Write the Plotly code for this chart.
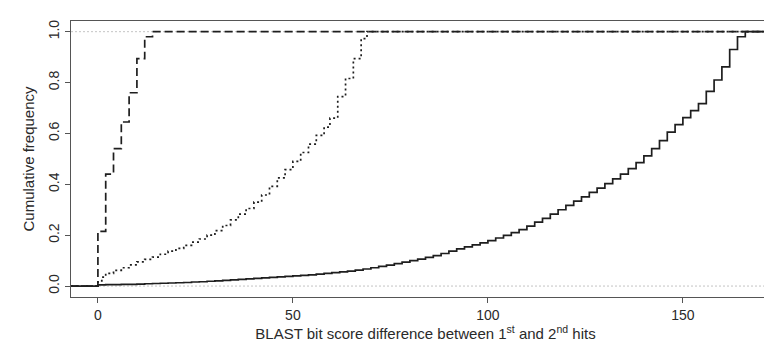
import plotly.graph_objects as go

# ---- data ----
# dashed series: jump positions and cumulative values
dash_x = [0, 2, 4, 6, 8, 10, 12, 14]
dash_y = [0.215, 0.44, 0.54, 0.645, 0.76, 0.894, 0.98, 1.0]

# dotted series
dot_x = [0, 1, 2, 4, 6, 8, 10, 12, 14, 16, 18, 20, 22, 24, 26, 28, 30, 32, 34, 36,
         38, 40, 42, 44, 46, 48, 50, 52, 54, 56, 58, 59.5, 61.5, 63.5, 65.5, 67.5, 69]
dot_y = [0.02, 0.035, 0.05, 0.062, 0.072, 0.083, 0.095, 0.105, 0.114, 0.125, 0.137,
         0.148, 0.160, 0.173, 0.185, 0.200, 0.218, 0.238, 0.260, 0.283, 0.305, 0.330,
         0.358, 0.392, 0.425, 0.458, 0.490, 0.525, 0.558, 0.592, 0.625, 0.660, 0.745,
         0.816, 0.894, 0.973, 1.0]

# solid series
solid_x = list(range(0, 168, 2))
solid_y = [0.005, 0.006, 0.006, 0.007, 0.007, 0.008, 0.009, 0.010, 0.011, 0.012,
           0.013, 0.014, 0.016, 0.017, 0.019, 0.020, 0.022, 0.024, 0.026, 0.028,
           0.030, 0.032, 0.034, 0.036, 0.038, 0.040, 0.042, 0.044, 0.047, 0.050,
           0.053, 0.056, 0.059, 0.063, 0.067, 0.072, 0.077, 0.082, 0.088, 0.094,
           0.100, 0.106, 0.113, 0.120, 0.128, 0.137, 0.146, 0.154, 0.162, 0.170,
           0.179, 0.189, 0.199, 0.210, 0.222, 0.236, 0.251, 0.266, 0.283, 0.300,
           0.317, 0.334, 0.351, 0.368, 0.385, 0.403, 0.421, 0.440, 0.462, 0.485,
           0.512, 0.540, 0.572, 0.605, 0.635, 0.662, 0.690, 0.717, 0.765, 0.810,
           0.862, 0.930, 0.980, 1.000]

x_ticks = [0, 50, 100, 150]
y_ticks = [0.0, 0.2, 0.4, 0.6, 0.8, 1.0]

X_RANGE = [-6.9, 174.9]
Y_RANGE = [-0.043, 1.042]

fig = go.Figure()

# grey reference lines at 0 and 1
for h in (0.0, 1.0):
    fig.add_trace(go.Scatter(x=X_RANGE, y=[h, h], mode="lines",
                             line=dict(color="#c4c4c4", width=1, dash="2px,2px"),
                             hoverinfo="skip", showlegend=False))


def step_trace(xs, ys, dash, width):
    px = [X_RANGE[0]] + xs + [X_RANGE[1] + 5]
    py = [0.0] + ys + [ys[-1]]
    return go.Scatter(x=px, y=py, mode="lines", line_shape="hv",
                      line=dict(color="#1e1e1e", width=width, dash=dash),
                      showlegend=False)


fig.add_trace(step_trace(solid_x, solid_y, "solid", 1.7))
fig.add_trace(step_trace(dot_x, dot_y, "2px,3px", 1.7))
fig.add_trace(step_trace(dash_x, dash_y, "8px,4px", 1.7))

tick_font = dict(family="Liberation Sans, Arial, sans-serif", size=14, color="#2a2a2a")
title_font = dict(family="Liberation Sans, Arial, sans-serif", size=15, color="#2a2a2a")

fig.update_layout(
    width=772, height=344,
    margin=dict(l=63, r=0, t=13, b=55),
    paper_bgcolor="white", plot_bgcolor="white",
    font=tick_font,
    showlegend=False,
    xaxis=dict(range=X_RANGE, tickvals=x_ticks, ticks="outside", ticklen=5,
               tickcolor="#555", showline=True, linecolor="#555", linewidth=1,
               mirror=True, showgrid=False, zeroline=False, tickfont=tick_font,
               title=dict(text="BLAST bit score difference between 1<sup>st</sup> and 2<sup>nd</sup> hits",
                          standoff=4, font=title_font)),
    yaxis=dict(range=Y_RANGE, tickvals=y_ticks, tickformat=".1f", ticks="outside",
               ticklen=5, tickcolor="#555", tickangle=-90, showline=True,
               linecolor="#555", linewidth=1, showgrid=False, zeroline=False,
               tickfont=tick_font,
               title=dict(text="Cumulative frequency", standoff=8, font=title_font)),
)

fig.write_html("out.html")
